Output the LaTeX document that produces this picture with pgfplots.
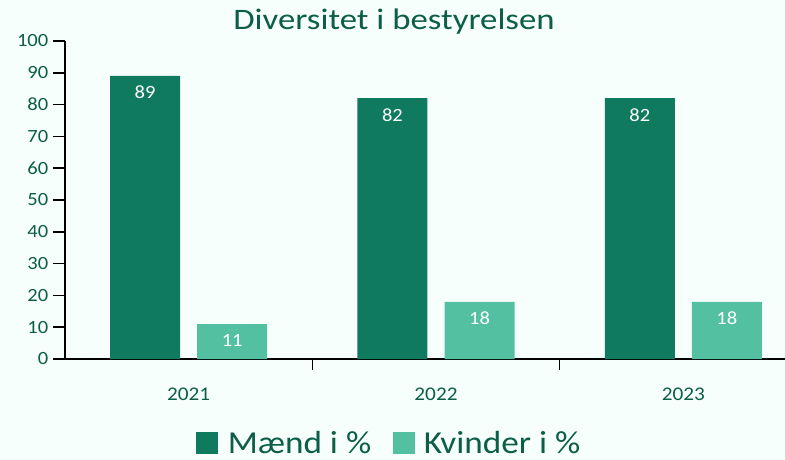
\documentclass[border=0pt]{standalone}
\usepackage{fontspec}
\setmainfont{Carlito}[FakeStretch=1.1]
\newfontfamily\titlefont{Carlito}[FakeStretch=1.17]
\usepackage{pgfplots}
\pgfplotsset{compat=1.18}
\definecolor{txt}{RGB}{12,94,72}
\definecolor{darkg}{RGB}{16,122,94}
\definecolor{lightg}{RGB}{84,192,162}
\definecolor{bg}{RGB}{247,255,252}
\begin{document}
\begin{tikzpicture}
\fill[bg] (0,0) rectangle (588.75pt,345pt);
\useasboundingbox (0,0) rectangle (588.75pt,345pt);
\node[text=txt, font=\titlefont\fontsize{22.3}{26}\selectfont] at (295.5pt,328.5pt) {Diversitet i bestyrelsen};
\begin{axis}[
  at={(48.75pt,75.75pt)}, anchor=south west,
  scale only axis, width=540pt, height=238.5pt,
  xmin=-0.5, xmax=2.411, ymin=0, ymax=100,
  axis lines*=left,
  axis line style={black, line width=1.1pt},
  ytick={0,10,...,100},
  xtick={0,1,2}, xticklabels={2021,2022,2023},
  minor xtick={0.5,1.5},
  major x tick style={draw=none},
  minor tick length=8.25pt,
  major tick length=9pt,
  tick align=outside,
  tick style={black, line width=1.1pt},
  /pgf/number format/assume math mode=true,
  y tick label style={font=\fontsize{14}{16}\selectfont, text=txt},
  x tick label style={font=\fontsize{14.5}{16}\selectfont, text=txt, yshift=-9pt},
  ybar, bar width=0.283,
  nodes near coords,
  every node near coord/.append style={anchor=north, text=white, font=\fontsize{14}{16}\selectfont, yshift=-4pt},
  legend style={at={(0.451,-0.264)}, anchor=center, draw=none, fill=none,
    legend columns=2, font=\fontsize{24}{26}\selectfont, text=txt,
    /tikz/every odd column/.append style={column sep=5pt},
    /tikz/every even column/.append style={column sep=14pt}},
  legend image code/.code={\fill[#1] (0pt,-8.25pt) rectangle (16.5pt,8.25pt);},
]
\addplot[fill=darkg, draw=none, bar shift=-0.176] coordinates {(0,89) (1,82) (2,82)};
\addplot[fill=lightg, draw=none, bar shift=0.176] coordinates {(0,11) (1,18) (2,18)};
\legend{Mænd i \%, Kvinder i \%}
\end{axis}
\end{tikzpicture}
\end{document}
